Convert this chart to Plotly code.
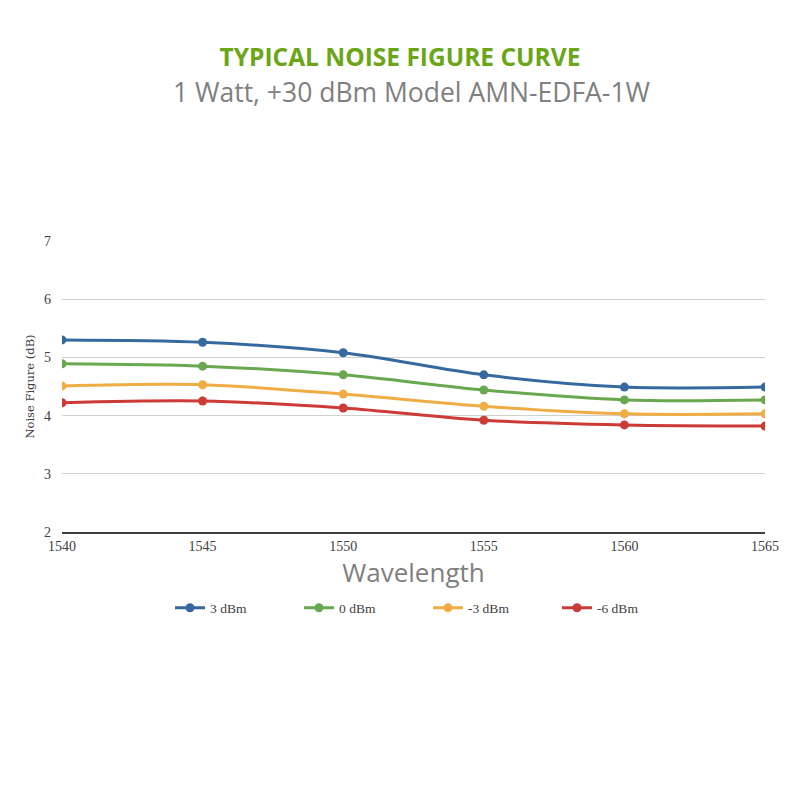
import plotly.graph_objects as go

# wavelengths (nm) and noise figure (dB) per input power
wavelength = [1540, 1545, 1550, 1555, 1560, 1565]
nf_3dbm = [5.30, 5.26, 5.08, 4.70, 4.49, 4.49]
nf_0dbm = [4.89, 4.85, 4.70, 4.44, 4.27, 4.27]
nf_m3dbm = [4.51, 4.53, 4.37, 4.16, 4.03, 4.03]
nf_m6dbm = [4.22, 4.25, 4.13, 3.92, 3.84, 3.82]

series = [
    ('3 dBm', nf_3dbm, '#366a9f'),
    ('0 dBm', nf_0dbm, '#6aa84f'),
    ('-3 dBm', nf_m3dbm, '#f0ad45'),
    ('-6 dBm', nf_m6dbm, '#cc3b36'),
]

serif = 'Liberation Serif'

fig = go.Figure()
for name, vals, color in series:
    fig.add_trace(go.Scatter(
        x=wavelength, y=vals, name=name,
        mode='lines+markers',
        line=dict(color=color, width=3, shape='spline', smoothing=0.9),
        marker=dict(color=color, size=9),
    ))

# page body has an 8px margin, so the margins are shifted to compensate
fig.update_layout(
    width=800, height=800,
    plot_bgcolor='white', paper_bgcolor='white',
    margin=dict(l=54, r=43, t=233, b=276),
    title=dict(
        text='<b>TYPICAL NOISE FIGURE CURVE</b>',
        font=dict(family='Open Sans', size=24.5, color='#6aa617'),
        x=0.49, xanchor='center', y=1 - 49 / 800, yanchor='middle', yref='container',
    ),
    xaxis=dict(
        range=[1540, 1565], dtick=5, showgrid=False,
        showline=True, linecolor='#404040', linewidth=1.5,
        tickfont=dict(family=serif, size=14, color='#404040'),
        title=dict(text='Wavelength', font=dict(family='Open Sans', size=26, color='#7f7f7f'), standoff=10),
        zeroline=False,
    ),
    yaxis=dict(
        range=[2, 7], dtick=1, showgrid=True, gridcolor='#d0d0d0', gridwidth=1.2,
        showline=False, zeroline=False,
        tickfont=dict(family=serif, size=14, color='#404040'),
        ticks='', ticklabelstandoff=10,
        title=dict(text='Noise Figure (dB)', font=dict(family='DejaVu Serif', size=11.5, color='#404040'), standoff=6),
    ),
    legend=dict(
        orientation='h', x=(428 - 62) / 703, xanchor='center', y=(532 - 608) / 291, yanchor='middle',
        font=dict(family=serif, size=13.5, color='#404040'),
        entrywidth=84, entrywidthmode='pixels',
    ),
    annotations=[dict(
        text='1 Watt, +30 dBm Model AMN-EDFA-1W',
        xref='paper', yref='paper', x=(412 - 62) / 703, y=(532 - 92) / 291,
        xanchor='center', yanchor='middle', showarrow=False,
        font=dict(family='Open Sans', size=26.5, color='#808080'),
    )],
)

fig.write_html('out.html')
